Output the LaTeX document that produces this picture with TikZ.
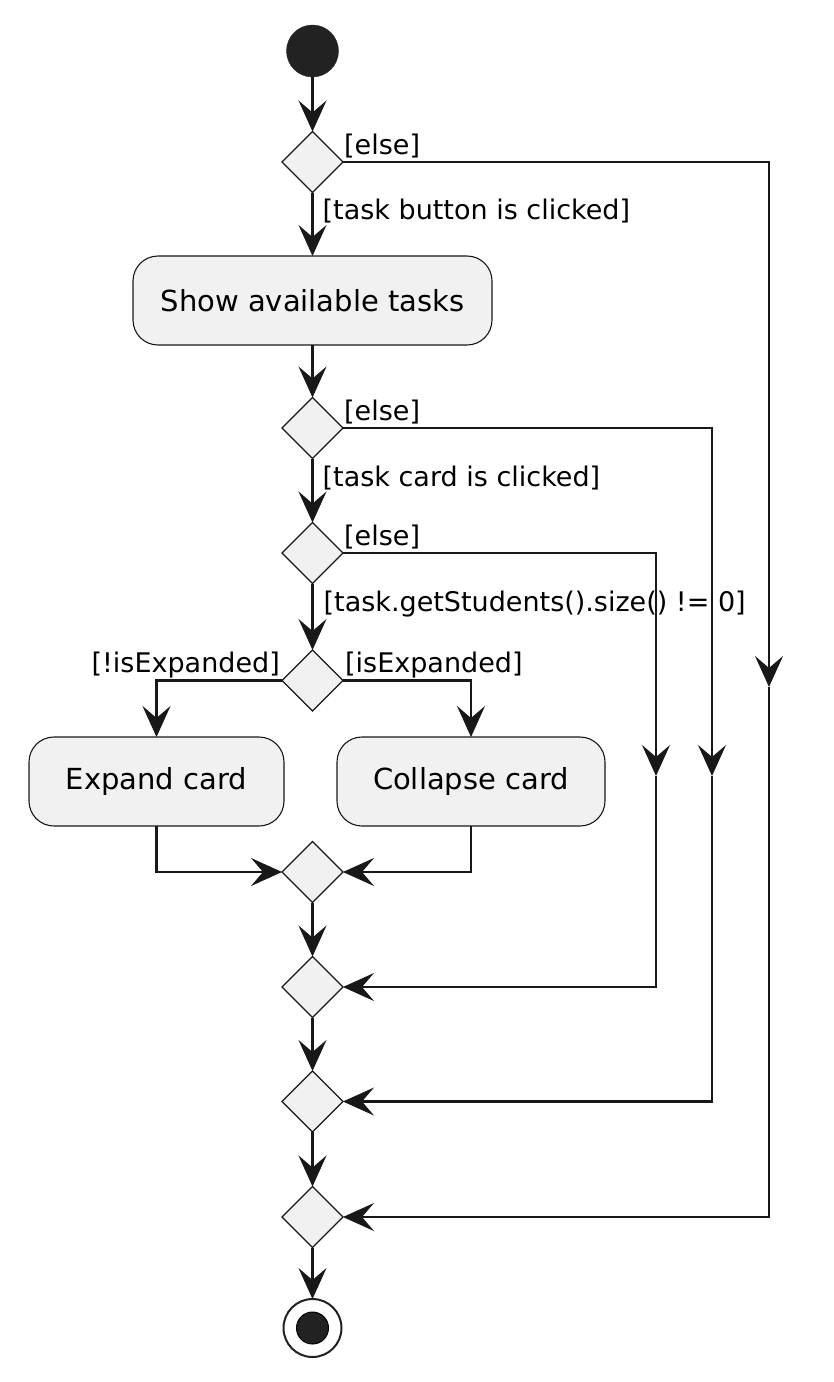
\documentclass[tikz,border=0pt]{standalone}
\usepackage{fontspec}
\setmainfont{DejaVu Sans}
\usepackage{tikz}
\usetikzlibrary{shapes.geometric, arrows.meta}
\usetikzlibrary{calc}
\usetikzlibrary{positioning}

\definecolor{dark}{HTML}{222222}
\definecolor{edge}{HTML}{181818}
\definecolor{boxfill}{HTML}{F1F1F1}

\newcommand{\actfont}{\fontsize{29}{34}\selectfont}
\newcommand{\lblfont}{\fontsize{27}{31}\selectfont}

\begin{document}
\begin{tikzpicture}[
                x=1pt, y=-1pt,
                startnode/.style={circle, draw=dark, fill=dark, minimum size=52pt, inner sep=0pt, outer sep=0pt},
                endnode/.style={circle, draw=dark, fill=white, line width=2pt, minimum size=58pt, inner sep=0pt, outer sep=0pt,
                        path picture={\fill[dark, draw=black, line width=1pt] (path picture bounding box.center) circle (16pt);}},
                choice/.style={diamond, draw=edge, fill=boxfill, line width=1.1pt, minimum size=61pt, inner sep=0pt, outer sep=0pt},
                act/.style={rectangle, rounded corners=25pt, draw=edge, fill=boxfill, line width=1.1pt,
                        minimum height=89pt, outer sep=0pt, font=\actfont},
                lbl/.style={inner sep=0pt, font=\lblfont},
                flow/.style={-{Stealth[length=31pt, width=28pt, inset=12pt, line width=1pt]}, draw=edge, line width=2.5pt},
            ]
            \useasboundingbox (0,0) rectangle (834,1382);

            \node[startnode] (start) at (312.5,51) {};
            \node[below=54.5pt of start, choice] (if1) {};
            \node[below=63.5pt of if1, act, minimum width=359pt] (show) {Show available tasks};
            \node[below=52.5pt of show, choice] (if2) {};
            \node[below=64pt of if2, choice] (if3) {};
            \node[below=66.5pt of if3, choice] (if4) {};
            \node[act, minimum width=255pt, anchor=north] (expand) at (156.5,737) {Expand card};
            \node[act, minimum width=268pt, anchor=north] (collapse) at (471,737) {Collapse card};
            \node[below=130.5pt of if4, choice] (merge1) {};
            \node[below=54pt of merge1, choice] (merge2) {};
            \node[below=53.5pt of merge2, choice] (merge3) {};
            \node[below=54.5pt of merge3, choice] (merge4) {};
            \node[below=51.5pt of merge4, endnode] (stop) {};

            % guards
            \node[lbl, anchor=base west] (else1) at ([xshift=1pt, yshift=7.7pt]if1.east) {[else]};
            \node[lbl, anchor=base west] (yes1) at ([xshift=10pt, yshift=-26.5pt]if1.south) {[task button is clicked]};
            \node[lbl, anchor=base west] (else2) at ([xshift=1pt, yshift=7.7pt]if2.east) {[else]};
            \node[lbl, anchor=base west] (yes2) at ([xshift=10pt, yshift=-27.5pt]if2.south) {[task card is clicked]};
            \node[lbl, anchor=base west] (else3) at ([xshift=1pt, yshift=7.7pt]if3.east) {[else]};
            \node[lbl, anchor=base west] (yes3) at ([xshift=11pt, yshift=-28pt]if3.south) {[task.getStudents().size() != 0]};
            \node[lbl, anchor=base east] (notexp) at ([xshift=-2pt, yshift=8.5pt]if4.west) {[!isExpanded]};
            \node[lbl, anchor=base west] (isexp) at ([xshift=2pt, yshift=8.5pt]if4.east) {[isExpanded]};

            % bends of the else branches
            \coordinate (skip1) at (769,687);
            \coordinate (skip2) at (712,776);
            \coordinate (skip3) at (656,776);

            \draw[flow] (start) -- (if1);
            \draw[flow] (if1) -- (show);
            \draw[flow] (show) -- (if2);
            \draw[flow] (if2) -- (if3);
            \draw[flow] (if3) -- (if4);
            \draw[flow] (if4.west) -| (expand.north);
            \draw[flow] (if4.east) -| (collapse.north);
            \draw[flow] (expand.south) |- (merge1.west);
            \draw[flow] (collapse.south) |- (merge1.east);
            \draw[flow] (merge1) -- (merge2);
            \draw[flow] (merge2) -- (merge3);
            \draw[flow] (merge3) -- (merge4);
            \draw[flow] (merge4) -- (stop);

            \draw[flow] (if1.east) -| (skip1);
            \draw[flow] (skip1) |- (merge4.east);
            \draw[flow] (if2.east) -| (skip2);
            \draw[flow] (skip2) |- (merge3.east);
            \draw[flow] (if3.east) -| (skip3);
            \draw[flow] (skip3) |- (merge2.east);
        \end{tikzpicture}
\end{document}
